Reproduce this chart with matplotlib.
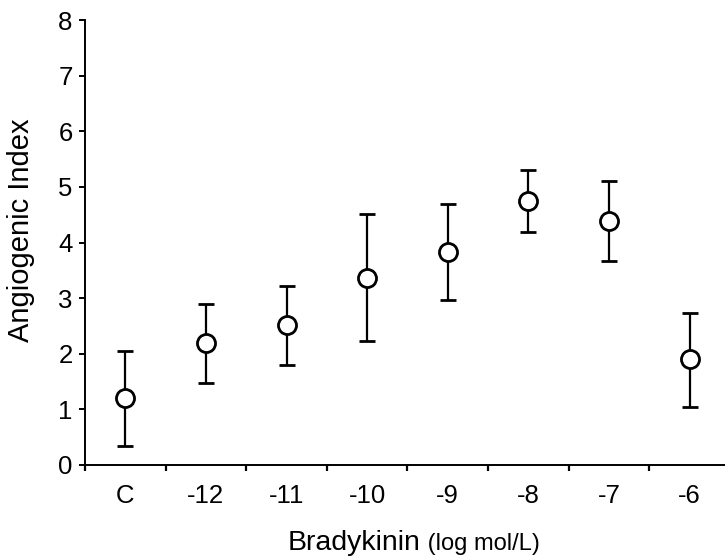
import matplotlib
matplotlib.use("Agg")
import matplotlib.pyplot as plt
import numpy as np

plt.rcParams['font.family'] = ['Liberation Sans', 'DejaVu Sans']

categories = ['C', '-12', '-11', '-10', '-9', '-8', '-7', '-6']
means = [1.20, 2.20, 2.51, 3.37, 3.83, 4.74, 4.39, 1.90]
err_low = [0.85, 0.72, 0.71, 1.14, 0.86, 0.56, 0.72, 0.86]
err_high = [0.85, 0.70, 0.71, 1.14, 0.86, 0.57, 0.71, 0.84]
yticks = [0, 1, 2, 3, 4, 5, 6, 7, 8]

fig = plt.figure(figsize=(7.25, 5.58), dpi=100)
ax = fig.add_axes([85/725, 93/558, 640/725, 445/558])

x = np.arange(len(categories))
ax.errorbar(x, means, yerr=[err_low, err_high], fmt='o', color='black',
            ecolor='black', elinewidth=1.6, capsize=5.5, capthick=2.2,
            markersize=13, markerfacecolor='white', markeredgecolor='black',
            markeredgewidth=2.0, zorder=3)

ax.set_xlim(-0.5, 7.44)
ax.set_ylim(0, 8)
ax.set_yticks(yticks)
ax.set_yticklabels([str(t) for t in yticks])
ax.set_xticks(x)
ax.set_xticklabels(categories)
ax.set_xticks(np.arange(-0.5, 7.0, 1.0), minor=True)
ax.tick_params(axis='x', which='major', length=0, pad=14, labelsize=18.5)
ax.tick_params(axis='x', which='minor', length=4, width=1.6, direction='out')
ax.tick_params(axis='y', length=4, width=1.4, direction='out', pad=5, labelsize=18.5)

for s in ['top', 'right']:
    ax.spines[s].set_visible(False)
for s in ['left', 'bottom']:
    ax.spines[s].set_linewidth(1.4)

ax.set_ylabel('Angiogenic Index', fontsize=21)
ax.yaxis.set_label_coords(-0.078, 0.528)

fig.text(421/725, 8/558, 'Bradykinin', fontsize=20.5, ha='right', va='baseline')
fig.text(421/725, 8/558, ' (log mol/L)', fontsize=17, ha='left', va='baseline')

fig.savefig('out.png', dpi=100)
